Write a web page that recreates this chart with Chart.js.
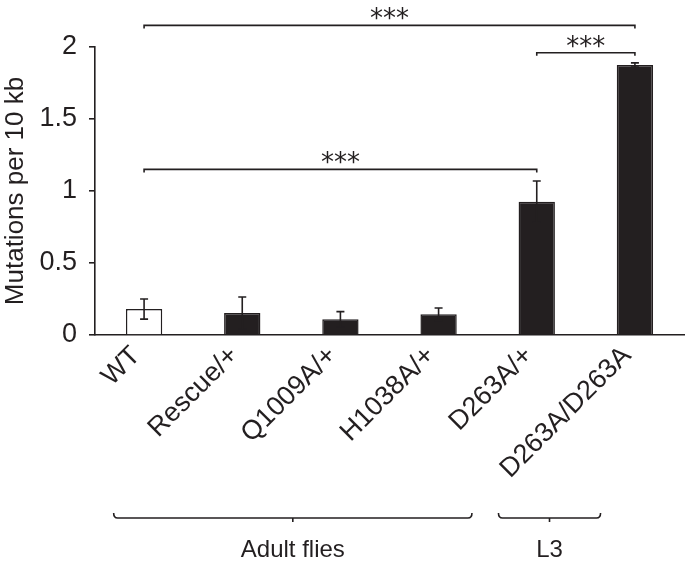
<!DOCTYPE html>
<html>
<head>
<meta charset="utf-8">
<script src="https://cdn.jsdelivr.net/npm/chart.js@4"></script>
<style>
  body { margin: 0; background: #fff; }
  #wrap { width: 685px; height: 564px; }
</style>
</head>
<body>
<div id="wrap"><canvas id="myChart" width="685" height="564"></canvas></div>
<script>
var labels = ['WT', 'Rescue/+', 'Q1009A/+', 'H1038A/+', 'D263A/+', 'D263A/D263A'];
var values = [0.18, 0.153, 0.109, 0.144, 0.926, 1.875];
var errors = [0.07, 0.111, 0.053, 0.044, 0.143, 0.015];
var yTicks = [0, 0.5, 1, 1.5, 2];

// significance brackets: from bar, to bar, height, text
var sigFrom = [0, 0, 4];
var sigTo = [5, 4, 5];
var sigLevel = [2.15, 1.15, 1.96];
var sigText = ['***', '***', '***'];

// group braces below the labels (in category units)
var groupLabels = ['Adult flies', 'L3'];
var groupFrom = [-0.31, 3.61];
var groupTo = [3.34, 4.65];

var FONT = '"Liberation Sans", Arial, Helvetica, sans-serif';
var INK = '#231f20';

var extras = {
    id: 'extras',
    afterDatasetsDraw: function(chart) {
        var ctx = chart.ctx;
        var xs = chart.scales.x, ys = chart.scales.y;
        ctx.save();
        ctx.strokeStyle = INK;
        ctx.fillStyle = INK;
        ctx.lineWidth = 1.6;

        // error bars
        for (var i = 0; i < values.length; i++) {
            var x = xs.getPixelForValue(i);
            var top = ys.getPixelForValue(values[i] + errors[i]);
            var bot = ys.getPixelForValue(values[i] - errors[i]);
            ctx.beginPath();
            ctx.moveTo(x, bot); ctx.lineTo(x, top);
            ctx.moveTo(x - 4, top); ctx.lineTo(x + 4, top);
            ctx.moveTo(x - 4, bot); ctx.lineTo(x + 4, bot);
            ctx.stroke();
        }

        // brackets
        ctx.textAlign = 'center';
        ctx.textBaseline = 'alphabetic';
        ctx.font = '26px "DejaVu Sans", sans-serif';
        for (var j = 0; j < sigFrom.length; j++) {
            var x1 = xs.getPixelForValue(sigFrom[j]);
            var x2 = xs.getPixelForValue(sigTo[j]);
            var y = ys.getPixelForValue(sigLevel[j]);
            ctx.beginPath();
            ctx.moveTo(x1, y + 3); ctx.lineTo(x1, y); ctx.lineTo(x2, y); ctx.lineTo(x2, y + 3);
            ctx.stroke();
            ctx.fillText(sigText[j], (x1 + x2) / 2, y + 2);
        }

        // group braces
        var p0 = xs.getPixelForValue(0), p1 = xs.getPixelForValue(1);
        var by = chart.height - 46;
        ctx.font = '24px ' + FONT;
        for (var k = 0; k < groupLabels.length; k++) {
            var a = p0 + groupFrom[k] * (p1 - p0);
            var b = p0 + groupTo[k] * (p1 - p0);
            var m = (a + b) / 2;
            ctx.beginPath();
            ctx.moveTo(a, by - 5);
            ctx.quadraticCurveTo(a, by, a + 4, by);
            ctx.lineTo(b - 4, by);
            ctx.quadraticCurveTo(b, by, b, by - 5);
            ctx.moveTo(m, by); ctx.lineTo(m, by + 4);
            ctx.stroke();
            ctx.fillText(groupLabels[k], m, by + 39);
        }
        ctx.restore();
    }
};

var ctx = document.getElementById('myChart').getContext('2d');
var myChart = new Chart(ctx, {
    type: 'bar',
    data: {
        labels: labels,
        datasets: [{
            data: values,
            backgroundColor: values.map(function(v, i) { return i === 0 ? '#ffffff' : INK; }),
            borderColor: INK,
            borderWidth: 1.5,
            barPercentage: 0.37,
            categoryPercentage: 1
        }]
    },
    plugins: [extras],
    options: {
        responsive: false,
        animation: false,
        layout: { padding: { top: 47, right: 1, left: 0, bottom: 0 } },
        plugins: { legend: { display: false }, tooltip: { enabled: false } },
        scales: {
            x: {
                afterFit: function(s) { s.height = 229; },
                grid: { display: false, drawTicks: false },
                border: { display: true, color: INK, width: 1.6 },
                ticks: {
                    color: INK,
                    font: { size: 27, family: FONT },
                    minRotation: 45,
                    maxRotation: 45,
                    padding: 5,
                    labelOffset: -8
                }
            },
            y: {
                min: 0,
                max: 2,
                afterFit: function(s) { s.width = 95; },
                afterBuildTicks: function(s) { s.ticks = yTicks.map(function(v) { return { value: v }; }); },
                grid: { drawOnChartArea: false, tickLength: 6, color: INK, lineWidth: 1.6 },
                border: { display: true, color: INK, width: 1.6 },
                ticks: {
                    color: INK,
                    font: { size: 27, family: FONT },
                    padding: 12,
                    callback: function(v) { return String(v); }
                },
                title: {
                    display: true,
                    text: 'Mutations per 10 kb',
                    color: INK,
                    font: { size: 26, family: FONT },
                    padding: { top: 0, bottom: 0 }
                }
            }
        }
    }
});
</script>
</body>
</html>
